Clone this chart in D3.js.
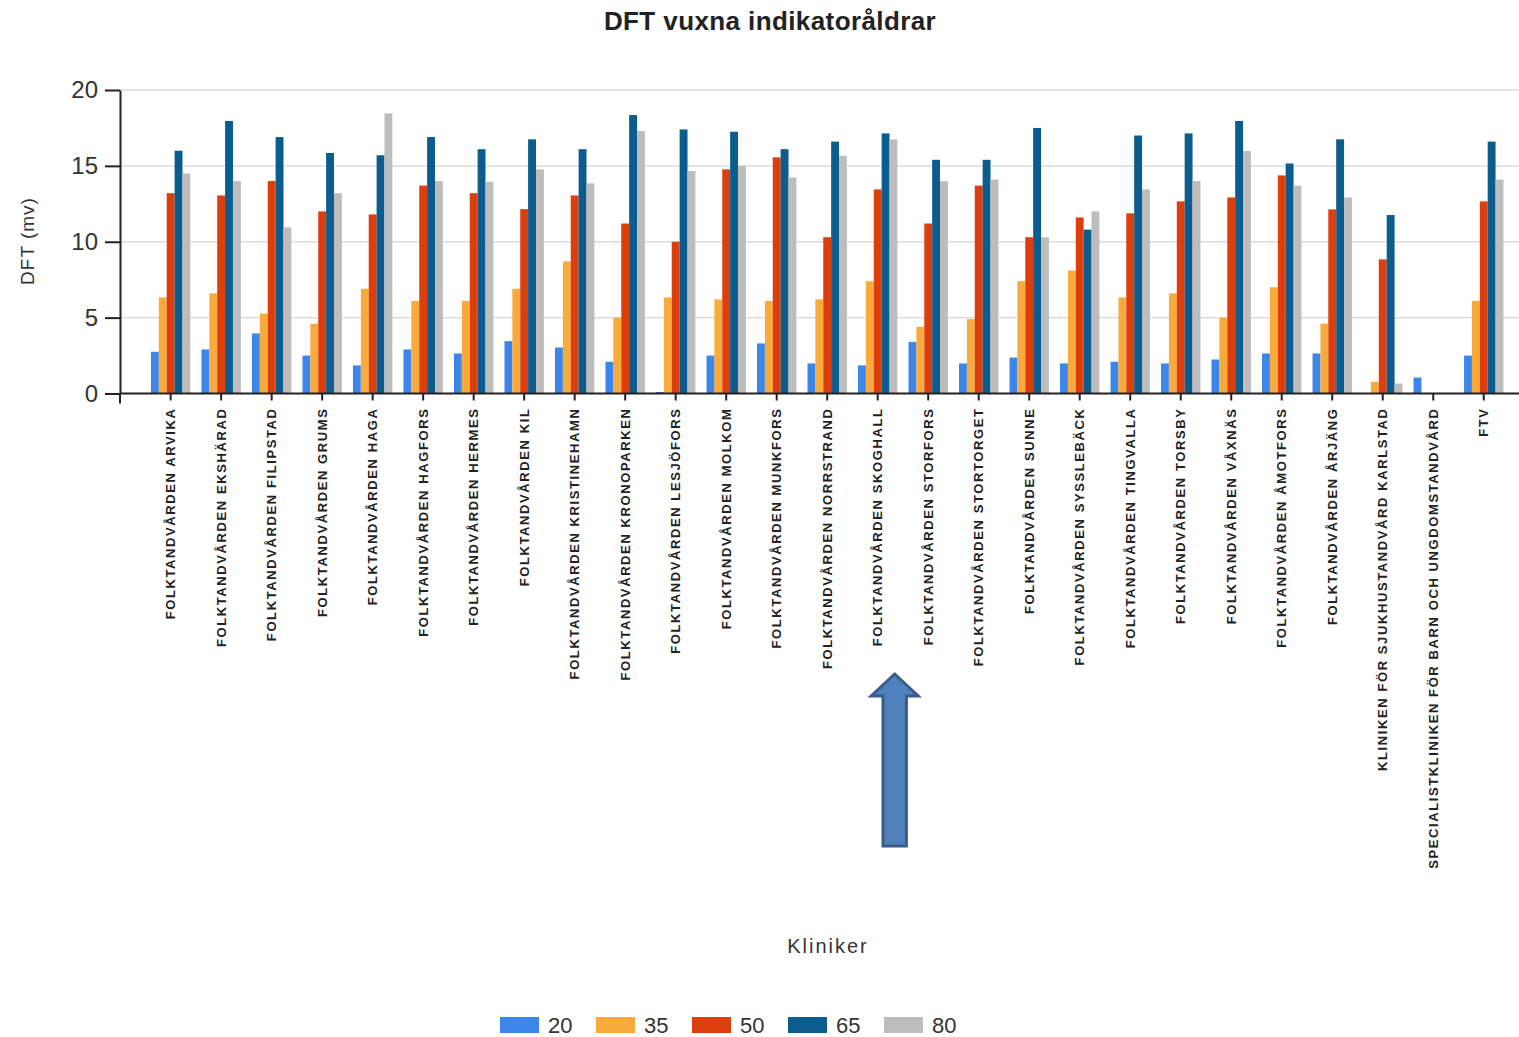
<!DOCTYPE html>
<html>
<head>
<meta charset="utf-8">
<script src="https://cdn.jsdelivr.net/npm/d3@7"></script>
<style>
  body { margin: 0; background: #fff; }
  svg { display: block; font-family: "Liberation Sans", Arial, sans-serif; }
</style>
</head>
<body>
<div id="chart"></div>
<script>
// Clinics (x categories)
const clinics = [
    'FOLKTANDVÅRDEN ARVIKA', 'FOLKTANDVÅRDEN EKSHÄRAD', 'FOLKTANDVÅRDEN FILIPSTAD',
    'FOLKTANDVÅRDEN GRUMS', 'FOLKTANDVÅRDEN HAGA', 'FOLKTANDVÅRDEN HAGFORS',
    'FOLKTANDVÅRDEN HERMES', 'FOLKTANDVÅRDEN KIL', 'FOLKTANDVÅRDEN KRISTINEHAMN',
    'FOLKTANDVÅRDEN KRONOPARKEN', 'FOLKTANDVÅRDEN LESJÖFORS', 'FOLKTANDVÅRDEN MOLKOM',
    'FOLKTANDVÅRDEN MUNKFORS', 'FOLKTANDVÅRDEN NORRSTRAND', 'FOLKTANDVÅRDEN SKOGHALL',
    'FOLKTANDVÅRDEN STORFORS', 'FOLKTANDVÅRDEN STORTORGET', 'FOLKTANDVÅRDEN SUNNE',
    'FOLKTANDVÅRDEN SYSSLEBÄCK', 'FOLKTANDVÅRDEN TINGVALLA', 'FOLKTANDVÅRDEN TORSBY',
    'FOLKTANDVÅRDEN VÅXNÄS', 'FOLKTANDVÅRDEN ÅMOTFORS', 'FOLKTANDVÅRDEN ÅRJÄNG',
    'KLINIKEN FÖR SJUKHUSTANDVÅRD KARLSTAD',
    'SPECIALISTKLINIKEN FÖR BARN OCH UNGDOMSTANDVÅRD',
    'FTV'
];

// Indicator ages (series)
const ages = ['20', '35', '50', '65', '80'];

// DFT mean per age, one value per clinic
const dft20 = [2.75, 2.9, 3.96, 2.5, 1.85, 2.9, 2.64, 3.45, 3.03, 2.09, 0.1, 2.5, 3.3, 1.98,
    1.85, 3.4, 1.98, 2.37, 1.98, 2.09, 1.98, 2.24, 2.64, 2.64, 0, 1.05, 2.5];
const dft35 = [6.33, 6.6, 5.27, 4.6, 6.9, 6.1, 6.1, 6.9, 8.7, 5.0, 6.33, 6.2, 6.1, 6.2,
    7.4, 4.4, 4.9, 7.4, 8.1, 6.33, 6.6, 5.0, 7.0, 4.6, 0.77, 0, 6.1];
const dft50 = [13.2, 13.05, 14.0, 12.0, 11.8, 13.7, 13.2, 12.15, 13.05, 11.2, 10.0, 14.77, 15.56, 10.3,
    13.45, 11.2, 13.7, 10.3, 11.6, 11.87, 12.66, 12.92, 14.37, 12.13, 8.84, 0, 12.66];
const dft65 = [16.0, 17.96, 16.9, 15.85, 15.7, 16.9, 16.1, 16.75, 16.1, 18.35, 17.4, 17.25, 16.1, 16.6,
    17.14, 15.4, 15.4, 17.5, 10.8, 17.0, 17.14, 17.96, 15.16, 16.75, 11.76, 0, 16.6];
const dft80 = [14.5, 14.0, 10.95, 13.2, 18.46, 14.0, 13.96, 14.77, 13.85, 17.3, 14.66, 15.0, 14.24, 15.67,
    16.75, 14.0, 14.1, 10.3, 12.0, 13.45, 14.0, 15.98, 13.7, 12.92, 0.66, 0, 14.1];

const yTicks = [0, 5, 10, 15, 20];
const colors = ['#3b86e8', '#f9aa3c', '#dd3e0e', '#0c5d8e', '#bdbdbd'];

const series = [dft20, dft35, dft50, dft65, dft80];
const data = clinics.map((c, i) => ({
    clinic: c,
    values: ages.map((a, j) => ({ age: a, value: series[j][i] }))
}));

const width = 1519, height = 1037;
const plotLeft = 120, plotRight = 1519, plotTop = 90, plotBottom = 393.5;

const svg = d3.select('#chart').append('svg')
    .attr('width', width)
    .attr('height', height);

const x0 = d3.scaleBand()
    .domain(clinics)
    .range([145.4, 1509])
    .paddingInner(0.22)
    .paddingOuter(0.11);

const x1 = d3.scaleBand()
    .domain(ages)
    .range([0, x0.bandwidth()]);

const y = d3.scaleLinear()
    .domain([0, 20])
    .range([plotBottom, plotTop]);

const color = d3.scaleOrdinal().domain(ages).range(colors);

// gridlines
svg.append('g')
    .selectAll('line')
    .data(yTicks.filter(t => t > 0))
    .enter().append('line')
    .attr('x1', plotLeft).attr('x2', plotRight)
    .attr('y1', d => y(d)).attr('y2', d => y(d))
    .attr('stroke', '#dcdcdc')
    .attr('stroke-width', 1.5);

// bars
const groups = svg.append('g')
    .selectAll('g')
    .data(data)
    .enter().append('g')
    .attr('transform', d => `translate(${x0(d.clinic)},0)`);

groups.selectAll('rect')
    .data(d => d.values.filter(v => v.value > 0))
    .enter().append('rect')
    .attr('x', d => x1(d.age))
    .attr('width', x1.bandwidth())
    .attr('y', d => y(d.value))
    .attr('height', d => y(0) - y(d.value))
    .attr('fill', d => color(d.age));

// y axis
const yAxis = svg.append('g')
    .attr('transform', `translate(${plotLeft},0)`)
    .call(d3.axisLeft(y).tickValues(yTicks).tickSize(15).tickSizeOuter(0));
yAxis.select('.domain').attr('stroke', '#222').attr('stroke-width', 2);
yAxis.selectAll('.tick line').attr('stroke', '#222').attr('stroke-width', 2);
yAxis.selectAll('.tick text')
    .attr('x', -22)
    .attr('font-size', 24)
    .attr('fill', '#333');

// small extension of y axis below zero
svg.append('line')
    .attr('x1', plotLeft).attr('x2', plotLeft)
    .attr('y1', y(0)).attr('y2', y(0) + 10)
    .attr('stroke', '#222').attr('stroke-width', 2);

// x axis
const xAxis = svg.append('g')
    .attr('transform', `translate(0,${plotBottom})`)
    .call(d3.axisBottom(x0).tickSize(7).tickSizeOuter(0));
xAxis.select('.domain')
    .attr('d', `M${plotLeft},0H${plotRight}`)
    .attr('stroke', '#222').attr('stroke-width', 2);
xAxis.selectAll('.tick line').attr('stroke', '#222').attr('stroke-width', 2);
xAxis.selectAll('.tick text')
    .attr('transform', 'rotate(-90)')
    .attr('text-anchor', 'end')
    .attr('dominant-baseline', 'central')
    .attr('x', -14)
    .attr('y', 0)
    .attr('dy', null)
    .attr('font-size', 13)
    .attr('font-weight', 'bold')
    .attr('letter-spacing', 1.6)
    .attr('fill', '#222');

// y label
svg.append('text')
    .attr('transform', 'translate(34,241) rotate(-90)')
    .attr('text-anchor', 'middle')
    .attr('font-size', 19)
    .attr('letter-spacing', 1)
    .attr('fill', '#333')
    .text('DFT (mv)');

// title
svg.append('text')
    .attr('x', 770).attr('y', 30)
    .attr('text-anchor', 'middle')
    .attr('font-size', 26)
    .attr('font-weight', 'bold')
    .attr('letter-spacing', 0.4)
    .attr('fill', '#222')
    .text('DFT vuxna indikatoråldrar');

// x label
svg.append('text')
    .attr('x', 828).attr('y', 953)
    .attr('text-anchor', 'middle')
    .attr('font-size', 20)
    .attr('letter-spacing', 2)
    .attr('fill', '#333')
    .text('Kliniker');

// legend
const legend = svg.append('g')
    .selectAll('g')
    .data(ages)
    .enter().append('g')
    .attr('transform', (d, i) => `translate(${500 + i * 96},1017)`);
legend.append('rect')
    .attr('width', 39).attr('height', 16)
    .attr('fill', d => color(d));
legend.append('text')
    .attr('x', 48).attr('y', 16)
    .attr('font-size', 22)
    .attr('fill', '#333')
    .text(d => d);

// annotation arrow pointing at Skoghall
const ax = x0('FOLKTANDVÅRDEN SKOGHALL') + x0.bandwidth() / 2 + 17;
svg.append('path')
    .attr('d', `M${ax},674 L${ax + 23.5},696 L${ax + 11.7},696 L${ax + 11.7},846 L${ax - 11.7},846 L${ax - 11.7},696 L${ax - 23.5},696 Z`)
    .attr('fill', '#4f81bd')
    .attr('stroke', '#385d8a')
    .attr('stroke-width', 3)
    .attr('stroke-linejoin', 'miter');
</script>
</body>
</html>
